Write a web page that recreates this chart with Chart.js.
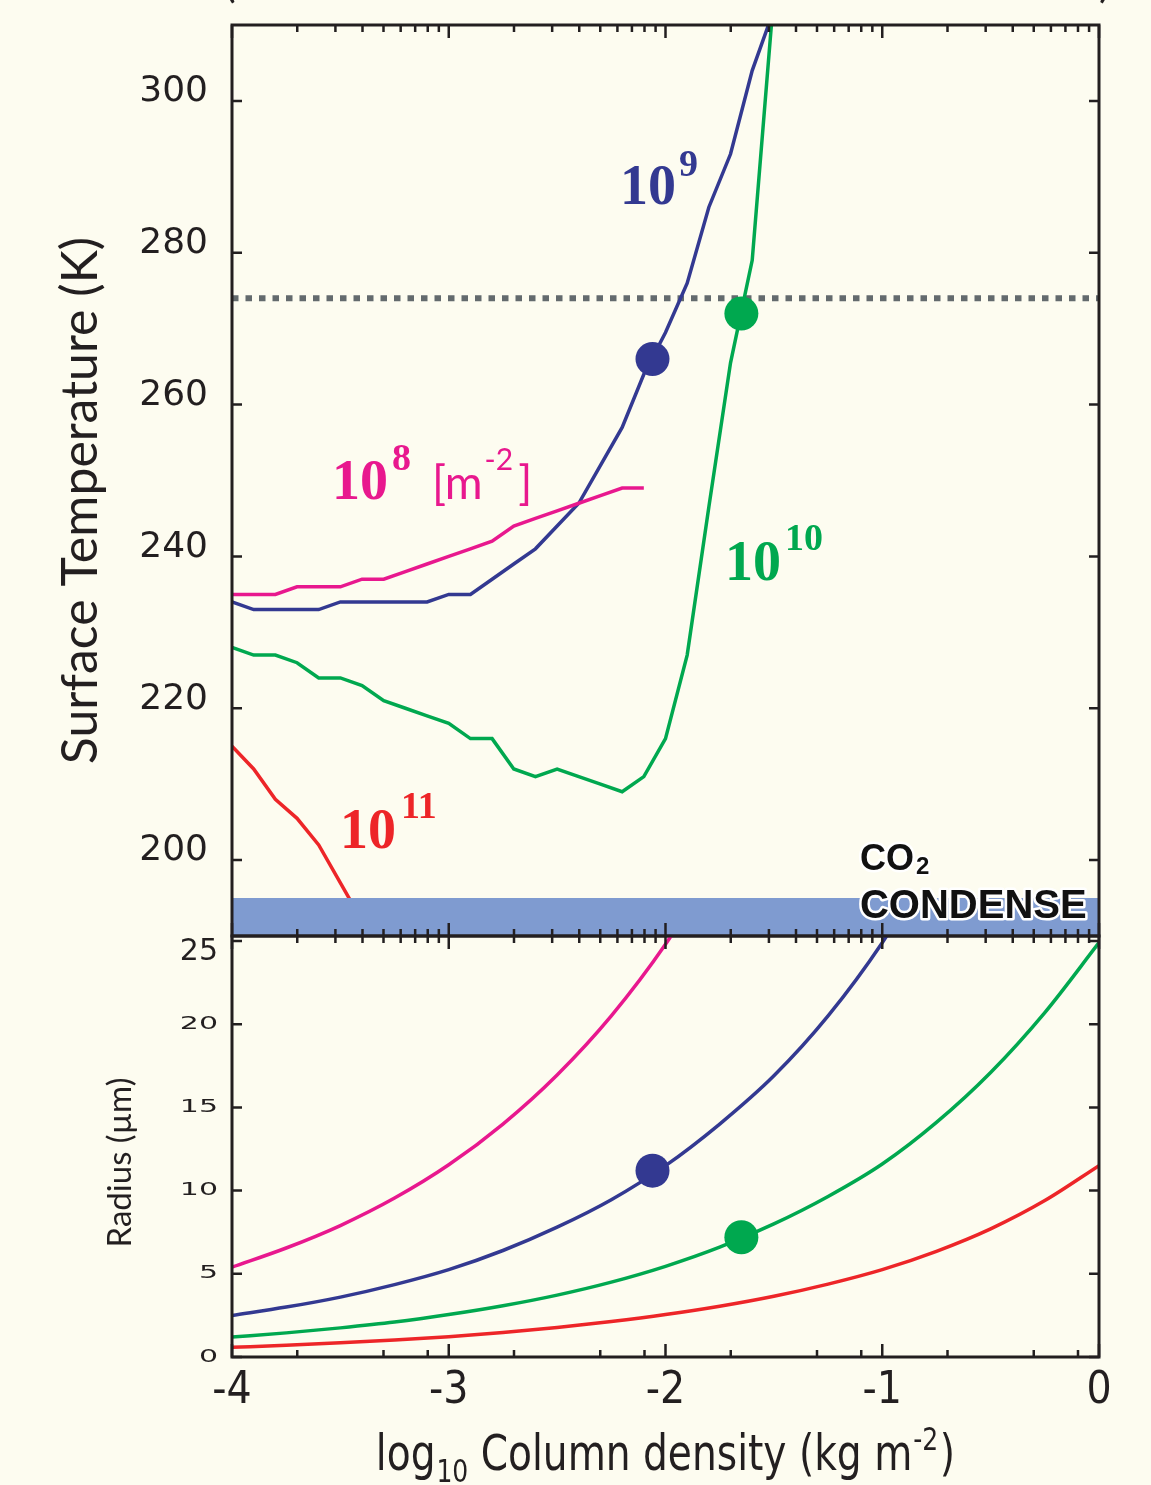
<!DOCTYPE html>
<html>
<head>
<meta charset="utf-8">
<script src="https://cdn.jsdelivr.net/npm/chart.js@4.4.1/dist/chart.umd.min.js"></script>
<style>
    html, body { margin: 0; padding: 0; background: #fdfcf0; }
    #wrap { position: relative; width: 1151px; height: 1485px; overflow: hidden; }
    #wrap canvas { position: absolute; left: 0; top: 0; }
</style>
</head>
<body>
<div id="wrap">
    <canvas id="tempChart" width="1151" height="1485"></canvas>
    <canvas id="radiusChart" width="1151" height="1485"></canvas>
</div>
<script>
// eixo x: log10 da densidade de coluna (kg m-2)
const xTicks = [-4, -3, -2, -1, 0];
const tempTicks = [200, 220, 240, 260, 280, 300];
const radiusTicks = [0, 5, 10, 15, 20, 25];

// painel de cima: temperatura da superficie (K)
const tempX = [-4.0, -3.9, -3.8, -3.7, -3.6, -3.5, -3.4, -3.3, -3.2, -3.1, -3.0, -2.9, -2.8,
               -2.7, -2.6, -2.5, -2.4, -2.3, -2.2, -2.1, -2.0, -1.9, -1.8, -1.7, -1.6, -1.5];
const temp1e8  = [235, 235, 235, 236, 236, 236, 237, 237, 238, 239, 240, 241, 242,
                  244, 245, 246, 247, 248, 249, 249];
const temp1e9  = [234, 233, 233, 233, 233, 234, 234, 234, 234, 234, 235, 235, 237,
                  239, 241, 244, 247, 252, 257, 264, 269.5, 276, 286, 293, 304, 312];
const temp1e10 = [228, 227, 227, 226, 224, 224, 223, 221, 220, 219, 218, 216, 216,
                  212, 211, 212, 211, 210, 209, 211, 216, 227, 246.5, 265.5, 279, 314];
const temp1e11 = [215, 212, 208, 205.5, 202, 197, 192];
const freezeTemp = 274;
const condenseTemp = 195;

// pontos marcados (1e9 e 1e10)
const dotX = [-2.06, -1.65];
const dotTemp = [266, 272];
const dotRadius = [11.2, 7.2];

// painel de baixo: raio (um)
const radiusX = [-4.0, -3.75, -3.5, -3.25, -3.0, -2.75, -2.5, -2.25, -2.0,
                 -1.75, -1.5, -1.25, -1.0, -0.75, -0.5, -0.25, 0.0];
const radius1e8  = [5.4, 6.55, 7.9, 9.55, 11.55, 14.0, 16.95, 20.5, 24.8, 30.0];
const radius1e9  = [2.5, 3.0, 3.6, 4.35, 5.25, 6.4, 7.8, 9.45, 11.5, 14.0, 16.9, 20.5, 24.9, 30.2];
const radius1e10 = [1.2, 1.45, 1.75, 2.1, 2.55, 3.08, 3.72, 4.5, 5.45, 6.6, 8.0, 9.65, 11.6, 14.1, 17.1, 20.7, 24.9];
const radius1e11 = [0.58, 0.7, 0.85, 1.02, 1.22, 1.47, 1.77, 2.13, 2.55, 3.05, 3.65, 4.38, 5.25, 6.35, 7.7, 9.4, 11.5];

const INK = '#231f20';
const PINK = '#e8188e';
const BLUE = '#333991';
const GREEN = '#00a84f';
const RED = '#ed2528';
const BAND = '#7f9bd0';
const SERIF_B = '"Liberation Serif", "DejaVu Serif", serif';
const SANS = 'Lato, "Open Sans", sans-serif';
const NARROW = '"Liberation Sans Narrow", "DejaVu Sans Condensed", Lato, sans-serif';

function pts(xs, ys) {
    return ys.map((v, i) => ({ x: xs[i], y: v }));
}

function lineSet(xs, ys, color, extra) {
    return Object.assign({
        data: pts(xs, ys),
        borderColor: color,
        borderWidth: 3.5,
        pointRadius: 0,
        tension: 0,
        fill: false,
        clip: 0
    }, extra || {});
}

function dotSet(x, y, color) {
    return {
        data: [{ x: x, y: y }],
        showLine: false,
        pointRadius: 17,
        pointBackgroundColor: color,
        pointBorderWidth: 0,
        order: -5
    };
}

// sem folga extra em cima/embaixo do eixo y
function noPad(s) {
    s.width = 232;
    s.paddingTop = 0;
    s.paddingBottom = 0;
}

// texto com sobrescrito / subscrito
function drawRich(ctx, x, y, parts, align) {
    let total = 0;
    parts.forEach(p => {
        ctx.font = p.font;
        total += (p.dx || 0) + ctx.measureText(p.t).width;
    });
    let cx = align === 'center' ? x - total / 2 : x;
    parts.forEach(p => {
        ctx.font = p.font;
        cx += p.dx || 0;
        if (p.halo) {
            ctx.lineWidth = p.halo;
            ctx.lineJoin = 'round';
            ctx.strokeStyle = '#ffffff';
            ctx.strokeText(p.t, cx, y + (p.dy || 0));
        }
        ctx.fillText(p.t, cx, y + (p.dy || 0));
        cx += ctx.measureText(p.t).width;
    });
}

// moldura e marcas de escala para dentro
function frameTicks(minorTop, minorBottom) {
    return {
        id: 'frameTicks',
        afterDatasetsDraw(chart) {
            const { ctx, chartArea: a, scales: { x, y } } = chart;
            ctx.save();
            ctx.strokeStyle = INK;
            ctx.lineWidth = 2.5;
            ctx.beginPath();
            xTicks.forEach(v => {
                const px = x.getPixelForValue(v);
                ctx.moveTo(px, a.top); ctx.lineTo(px, a.top + 13);
                ctx.moveTo(px, a.bottom); ctx.lineTo(px, a.bottom - 13);
                if (v < 0) {
                    minorTop.forEach(k => {
                        const mx = x.getPixelForValue(v + Math.log10(k));
                        ctx.moveTo(mx, a.top); ctx.lineTo(mx, a.top + 7);
                    });
                    minorBottom.forEach(k => {
                        const mx = x.getPixelForValue(v + Math.log10(k));
                        ctx.moveTo(mx, a.bottom); ctx.lineTo(mx, a.bottom - 7);
                    });
                }
            });
            y.ticks.forEach(t => {
                const py = y.getPixelForValue(t.value);
                ctx.moveTo(a.left, py); ctx.lineTo(a.left + 10, py);
                ctx.moveTo(a.right, py); ctx.lineTo(a.right - 10, py);
            });
            ctx.stroke();
            ctx.lineWidth = 3;
            ctx.strokeRect(a.left, a.top, a.right - a.left, a.bottom - a.top);
            ctx.restore();
        }
    };
}

const allMinor = [2, 3, 4, 5, 6, 7, 8, 9];

const tempLabels = [
    { x: -2.21, y: 286.4, color: BLUE, parts: [
        { t: '10', font: 'bold 56px ' + SERIF_B },
        { t: '9', font: 'bold 38px ' + SERIF_B, dy: -28, dx: 3 }] },
    { x: -3.539, y: 247.6, color: PINK, parts: [
        { t: '10', font: 'bold 56px ' + SERIF_B },
        { t: '8', font: 'bold 38px ' + SERIF_B, dy: -29, dx: 4 },
        { t: '[m', font: '46px ' + SANS, dx: 21 },
        { t: '-2', font: '30px ' + SANS, dy: -29, dx: 2 },
        { t: ']', font: '46px ' + SANS, dx: 5 }] },
    { x: -1.7255, y: 236.9, color: GREEN, parts: [
        { t: '10', font: 'bold 56px ' + SERIF_B },
        { t: '10', font: 'bold 38px ' + SERIF_B, dy: -30, dx: 4 }] },
    { x: -3.502, y: 201.6, color: RED, parts: [
        { t: '10', font: 'bold 56px ' + SERIF_B },
        { t: '11', font: 'bold 38px ' + SERIF_B, dy: -30, dx: 5 }] }
];

const tempText = {
    id: 'tempText',
    afterDraw(chart) {
        const { ctx, chartArea: a, scales: { x, y } } = chart;
        ctx.save();
        ctx.textBaseline = 'alphabetic';
        tempLabels.forEach(l => {
            ctx.fillStyle = l.color;
            drawRich(ctx, x.getPixelForValue(l.x), y.getPixelForValue(l.y), l.parts);
        });
        // CO2 CONDENSE
        ctx.fillStyle = '#111111';
        const cx = x.getPixelForValue(-1.103);
        drawRich(ctx, cx, y.getPixelForValue(198.7), [
            { t: 'CO', font: 'bold 36px "Liberation Sans", Arial, sans-serif', halo: 5 },
            { t: '2', font: 'bold 24px "Liberation Sans", Arial, sans-serif', dy: 4, dx: 2, halo: 4 }]);
        drawRich(ctx, cx, y.getPixelForValue(192.35), [
            { t: 'CONDENSE', font: 'bold 40px "Liberation Sans", Arial, sans-serif', halo: 5 }]);
        // titulo do eixo y
        ctx.fillStyle = INK;
        ctx.translate(a.left - 151, (a.top + a.bottom) / 2 + 20);
        ctx.rotate(-Math.PI / 2);
        ctx.textAlign = 'center';
        ctx.textBaseline = 'middle';
        ctx.font = '50px ' + SANS;
        ctx.fillText('Surface Temperature (K)', 0, 0);
        ctx.restore();
        // pedaco do titulo cortado no topo
        ctx.save();
        ctx.fillStyle = INK;
        ctx.font = '44px ' + SANS;
        ctx.fillText('(', a.left - 8, -3);
        ctx.fillText(')', a.right, -3);
        ctx.restore();
    }
};

const radiusText = {
    id: 'radiusText',
    afterDraw(chart) {
        const { ctx, chartArea: a, scales: { x, y } } = chart;
        ctx.save();
        ctx.fillStyle = INK;
        ctx.textAlign = 'right';
        ctx.textBaseline = 'middle';
        radiusTicks.forEach(v => {
            const py = y.getPixelForValue(v);
            ctx.save();
            ctx.font = '30px "DejaVu Sans", sans-serif';
            if (v === 25) {
                ctx.fillText(String(v), a.left - 14, py + 11);
            } else {
                ctx.translate(a.left - 14, py);
                ctx.scale(1, 0.6);
                ctx.fillText(String(v), 0, 0);
            }
            ctx.restore();
        });
        // titulo do eixo y
        ctx.save();
        ctx.translate(a.left - 112, (a.top + a.bottom) / 2 + 16);
        ctx.rotate(-Math.PI / 2);
        ctx.textAlign = 'center';
        ctx.font = '33px ' + SANS;
        ctx.fillText('Radius (\u00b5m)', 0, 0);
        ctx.restore();
        // titulo do eixo x (fonte estreita)
        ctx.save();
        ctx.textAlign = 'left';
        ctx.textBaseline = 'alphabetic';
        ctx.translate((a.left + a.right) / 2, 1470);
        ctx.scale(0.87, 1);
        drawRich(ctx, 0, 0, [
            { t: 'log', font: '50px ' + NARROW },
            { t: '10', font: '32px ' + NARROW, dy: 12, dx: 1 },
            { t: ' Column density (kg m', font: '50px ' + NARROW },
            { t: '-2', font: '32px ' + NARROW, dy: -20, dx: 1 },
            { t: ')', font: '50px ' + NARROW, dx: 2 }], 'center');
        ctx.restore();
        ctx.restore();
    }
};

// grafico de cima
new Chart(document.getElementById('tempChart'), {
    type: 'line',
    data: {
        datasets: [
            lineSet([-4, 0], [condenseTemp, condenseTemp], BAND,
                { borderWidth: 0, fill: 'start', backgroundColor: BAND, order: -1 }),
            lineSet([-4, 0], [freezeTemp, freezeTemp], '#636a6d',
                { borderWidth: 6, borderDash: [6.5, 7], borderCapStyle: 'butt', order: 3 }),
            lineSet(tempX, temp1e11, RED),
            lineSet(tempX, temp1e10, GREEN),
            lineSet(tempX, temp1e8, PINK),
            lineSet(tempX, temp1e9, BLUE),
            dotSet(dotX[0], dotTemp[0], BLUE),
            dotSet(dotX[1], dotTemp[1], GREEN)
        ]
    },
    options: {
        responsive: false,
        animation: false,
        events: [],
        layout: { padding: { top: 25, right: 52, bottom: 549, left: 0 } },
        plugins: { legend: { display: false }, tooltip: { enabled: false } },
        scales: {
            x: { type: 'linear', min: -4, max: 0, display: false },
            y: {
                type: 'linear', min: 190, max: 310,
                afterBuildTicks: s => { s.ticks = tempTicks.map(v => ({ value: v })); },
                afterFit: noPad,
                grid: { display: false, drawTicks: false },
                border: { display: false },
                ticks: {
                    color: INK,
                    padding: 24,
                    labelOffset: -9,
                    font: { family: '"DejaVu Sans", sans-serif', size: 36 }
                }
            }
        }
    },
    plugins: [frameTicks(allMinor, allMinor), tempText]
});

// grafico de baixo
new Chart(document.getElementById('radiusChart'), {
    type: 'line',
    data: {
        datasets: [
            lineSet(radiusX, radius1e11, RED, { cubicInterpolationMode: 'monotone' }),
            lineSet(radiusX, radius1e10, GREEN, { cubicInterpolationMode: 'monotone' }),
            lineSet(radiusX, radius1e9, BLUE, { cubicInterpolationMode: 'monotone' }),
            lineSet(radiusX, radius1e8, PINK, { cubicInterpolationMode: 'monotone' }),
            dotSet(dotX[0], dotRadius[0], BLUE),
            dotSet(dotX[1], dotRadius[1], GREEN)
        ]
    },
    options: {
        responsive: false,
        animation: false,
        events: [],
        layout: { padding: { top: 936, right: 52, bottom: 0, left: 0 } },
        plugins: { legend: { display: false }, tooltip: { enabled: false } },
        scales: {
            x: {
                type: 'linear', min: -4, max: 0,
                afterBuildTicks: s => { s.ticks = xTicks.map(v => ({ value: v })); },
                afterFit: s => { s.height = 128; s.paddingLeft = 0; s.paddingRight = 0; },
                grid: { display: false, drawTicks: false },
                border: { display: false },
                ticks: {
                    color: INK,
                    padding: 8,
                    maxRotation: 0,
                    font: { family: NARROW, size: 44 },
                    callback: v => String(v)
                }
            },
            y: {
                type: 'linear', min: 0, max: 25.3,
                afterBuildTicks: s => { s.ticks = radiusTicks.map(v => ({ value: v })); },
                afterFit: noPad,
                grid: { display: false, drawTicks: false },
                border: { display: false },
                ticks: { display: false }
            }
        }
    },
    plugins: [frameTicks(allMinor, [2, 5, 8]), radiusText]
});
</script>
</body>
</html>
